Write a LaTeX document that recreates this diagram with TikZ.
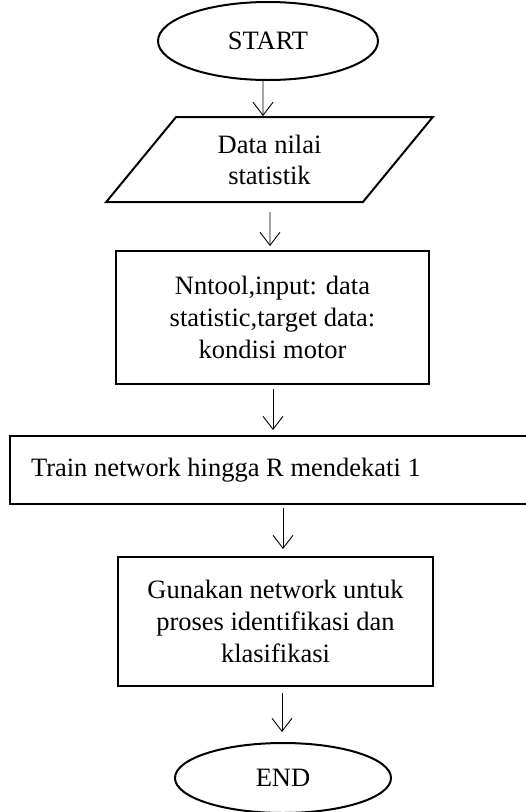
\documentclass[tikz,border=0pt]{standalone}
\usepackage{fontspec}
\setmainfont{Liberation Serif}
\usetikzlibrary{shapes.geometric,arrows.meta}

\begin{document}
\begin{tikzpicture}[x=1pt,y=-1pt,
  term/.style={ellipse,draw=black,line width=2pt,inner sep=0pt,font=\fontsize{26.5}{31}\selectfont},
  io/.style={trapezium,trapezium left angle=52,trapezium right angle=128,trapezium stretches=true,draw=black,line width=2pt,align=center,inner sep=0pt,font=\fontsize{26.5}{31}\selectfont},
  proc/.style={rectangle,draw=black,line width=2pt,align=center,inner sep=0pt,font=\fontsize{26.5}{32}\selectfont},
  arr/.style={-{Straight Barb[length=13pt,width=20pt]},line width=0.9pt}]
\useasboundingbox (0,0) rectangle (526,812);

\node[term,minimum width=220,minimum height=78] (start) at (268,41)   {START};
\node[io,minimum width=327,minimum height=85]   (data)  at (269.5,159.5) {Data nilai\\statistik};
\node[proc,minimum width=313,minimum height=133] (nntool) at (272.5,317.5) {Nntool,input: data\\statistic,target data:\\kondisi motor};
\node[proc,anchor=west,minimum width=620,minimum height=68,inner xsep=21pt,text width=578pt,align=left] (train) at (9,470) {\spaceskip=6.6pt plus 1pt Train network hingga R mendekati 1};
\node[proc,minimum width=315,minimum height=129] (gunakan) at (275.5,621.5) {Gunakan network untuk\\proses identifikasi dan\\klasifikasi};
\node[term,minimum width=216,minimum height=70] (end) at (283,778) {END};

\draw[arr] ([xshift=-5]start.south) -- ([xshift=-6.5]data.north);
\draw[arr,shorten <=9pt,shorten >=4pt] ([xshift=0.5]data.south) -- ([xshift=-2.5]nntool.north);
\draw[arr,shorten <=4pt,shorten >=5pt] ([xshift=0.5]nntool.south) -- ([xshift=0.5]nntool.south |- train.north);
\draw[arr,shorten <=3pt,shorten >=7pt] ([xshift=274]train.south west) -- ([xshift=7.5]gunakan.north);
\draw[arr,shorten <=6pt,shorten >=10pt] ([xshift=6.5]gunakan.south) -- ([xshift=-1]end.north);

\end{tikzpicture}
\end{document}
